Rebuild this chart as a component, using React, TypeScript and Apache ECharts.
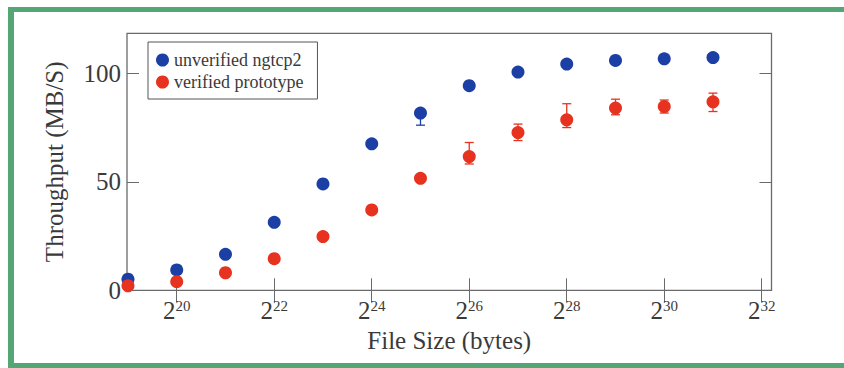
import React, { useEffect, useRef } from "react";
import * as echarts from "echarts";

// File size as log2(bytes)
const sizeExp = [19, 20, 21, 22, 23, 24, 25, 26, 27, 28, 29, 30, 31];
const xTicks = [20, 22, 24, 26, 28, 30, 32];

const seriesNames = ["unverified ngtcp2", "verified prototype"];

const unverified = [5.1, 9.4, 16.6, 31.4, 49.1, 67.6, 81.8, 94.4, 100.7, 104.4, 106.1, 106.8, 107.4];
const unverifiedLow = [4.6, 8.9, 16.0, 30.8, 48.5, 67.0, 76.2, 93.6, 99.9, 103.6, 105.4, 106.1, 106.6];
const unverifiedHigh = [5.6, 9.9, 17.2, 32.0, 49.7, 68.2, 83.0, 95.2, 101.5, 105.2, 106.8, 107.5, 108.2];

const verified = [2.1, 4.0, 8.1, 14.6, 24.8, 37.1, 51.7, 61.7, 72.8, 78.7, 84.1, 84.8, 87.0];
const verifiedLow = [1.6, 3.5, 7.5, 14.0, 24.2, 36.5, 50.5, 58.3, 69.1, 75.1, 81.0, 81.8, 82.5];
const verifiedHigh = [2.6, 4.5, 8.7, 15.2, 25.4, 37.7, 53.0, 68.2, 76.7, 86.1, 88.2, 87.8, 91.0];

const BLUE = "#1c3fa6";
const RED = "#e6321f";
const GREEN = "#54a674";
const AXIS = "#6a6a6a";
const TEXT = "#3a3a3a";
const SERIF = "'Liberation Serif', 'DejaVu Serif', serif";

function errorSeries(color: string, low: number[], high: number[]) {
  return {
    type: "custom",
    silent: true,
    z: 1,
    data: sizeExp.map((e, i) => [e, low[i], high[i]]),
    encode: { x: 0, y: [1, 2] },
    renderItem: (params: any, api: any) => {
      const x = api.value(0);
      const pLo = api.coord([x, api.value(1)]);
      const pHi = api.coord([x, api.value(2)]);
      const w = 4.5;
      const style = { stroke: color, lineWidth: 1.3 };
      return {
        type: "group",
        children: [
          { type: "line", shape: { x1: pLo[0], y1: pLo[1], x2: pHi[0], y2: pHi[1] }, style },
          { type: "line", shape: { x1: pLo[0] - w, y1: pLo[1], x2: pLo[0] + w, y2: pLo[1] }, style },
          { type: "line", shape: { x1: pHi[0] - w, y1: pHi[1], x2: pHi[0] + w, y2: pHi[1] }, style },
        ],
      };
    },
  };
}

export default function App() {
  const ref = useRef<HTMLDivElement>(null);
  useEffect(() => {
    if (!ref.current) return;
    const chart = echarts.init(ref.current, null, { renderer: "svg" });
    const xMin = 18.98;
    const xMax = 32.2;
    const yMin = 0;
    const yMax = 118.6;
    const tickCommon = { show: true, inside: true, length: 12, lineStyle: { color: AXIS, width: 1 } };
    chart.setOption({
      animation: false,
      backgroundColor: "#ffffff",
      textStyle: { fontFamily: SERIF },
      grid: {
        left: 127,
        right: 72.5,
        top: 33.3,
        bottom: 77.7,
        show: true,
        borderColor: AXIS,
        borderWidth: 1.3,
        backgroundColor: "transparent",
      },
      legend: {
        left: 148,
        top: 42,
        orient: "vertical",
        icon: "circle",
        itemWidth: 13,
        itemHeight: 13,
        itemGap: 4,
        padding: [9, 14, 8, 8],
        borderColor: "#555555",
        borderWidth: 1,
        backgroundColor: "#ffffff",
        data: seriesNames,
        textStyle: { fontFamily: SERIF, fontSize: 18, color: TEXT },
      },
      xAxis: [
        {
          type: "value",
          min: xMin,
          max: xMax,
          position: "bottom",
          axisLine: { show: false },
          splitLine: { show: false },
          axisTick: { ...tickCommon, customValues: xTicks },
          axisLabel: {
            customValues: xTicks,
            margin: 8,
            color: TEXT,
            formatter: (v: number) => `{b|2}{s|${Math.round(v)}}`,
            rich: {
              b: { fontSize: 25, fontFamily: SERIF, color: TEXT },
              s: { fontSize: 15, fontFamily: SERIF, color: TEXT, verticalAlign: "top" },
            },
          },
          name: "File Size (bytes)",
          nameLocation: "middle",
          nameGap: 30,
          nameTextStyle: { fontSize: 25, fontFamily: SERIF, color: TEXT },
        },
        {
          type: "value",
          min: xMin,
          max: xMax,
          position: "top",
          axisLine: { show: false },
          splitLine: { show: false },
          axisTick: { ...tickCommon, customValues: xTicks },
          axisLabel: { show: false, customValues: xTicks },
        },
      ],
      yAxis: [
        {
          type: "value",
          min: yMin,
          max: yMax,
          interval: 50,
          axisLine: { show: false },
          splitLine: { show: false },
          axisTick: tickCommon,
          axisLabel: {
            margin: 6,
            fontSize: 25,
            fontFamily: SERIF,
            color: TEXT,
            showMaxLabel: false,
            formatter: (v: number) => (v % 50 === 0 ? String(v) : ""),
          },
          name: "Throughput (MB/S)",
          nameLocation: "middle",
          nameGap: 60,
          nameRotate: 90,
          nameTextStyle: { fontSize: 25, fontFamily: SERIF, color: TEXT },
        },
        {
          type: "value",
          min: yMin,
          max: yMax,
          interval: 50,
          position: "right",
          axisLine: { show: false },
          splitLine: { show: false },
          axisTick: tickCommon,
          axisLabel: { show: false },
        },
      ],
      graphic: [
        { type: "rect", shape: { x: 8, y: 7, width: 836, height: 5 }, style: { fill: GREEN }, silent: true },
        { type: "rect", shape: { x: 8, y: 7, width: 6, height: 361 }, style: { fill: GREEN }, silent: true },
        { type: "rect", shape: { x: 8, y: 363, width: 836, height: 5 }, style: { fill: GREEN }, silent: true },
      ],
      series: [
        errorSeries(BLUE, unverifiedLow, unverifiedHigh),
        errorSeries(RED, verifiedLow, verifiedHigh),
        {
          name: seriesNames[0],
          type: "scatter",
          symbol: "circle",
          symbolSize: 13,
          z: 3,
          itemStyle: { color: BLUE, opacity: 1 },
          data: sizeExp.map((e, i) => [e, unverified[i]]),
        },
        {
          name: seriesNames[1],
          type: "scatter",
          symbol: "circle",
          symbolSize: 13,
          z: 3,
          itemStyle: { color: RED, opacity: 1 },
          data: sizeExp.map((e, i) => [e, verified[i]]),
        },
      ],
    });
    return () => chart.dispose();
  }, []);
  return (
    <div
      ref={ref}
      style={{ position: "absolute", left: 0, top: 0, width: 844, height: 368, background: "#ffffff" }}
    />
  );
}
